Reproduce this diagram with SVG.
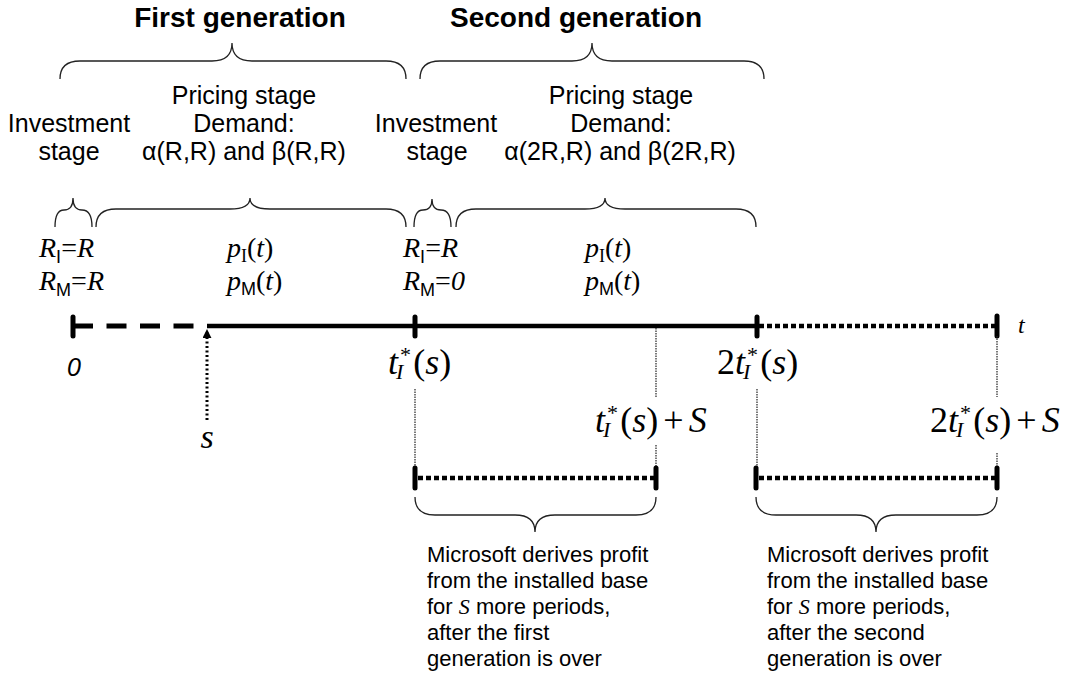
<svg xmlns="http://www.w3.org/2000/svg" width="1072" height="675" viewBox="0 0 1072 675">
<style>
.sans{font-family:"Liberation Sans",Arial,sans-serif;fill:#000}
.serif{font-family:"Liberation Serif","Times New Roman",serif;fill:#000}
.title{font-size:28px;font-weight:bold;text-anchor:middle}
.lbl{font-size:25px;text-anchor:middle}
.note{font-size:22px}
.brace{fill:none;stroke:#222;stroke-width:1.3}
.thick{stroke:#000;stroke-width:4.5;fill:none}
.tick{stroke:#000;stroke-width:5;stroke-linecap:round}
.dots{stroke:#000;stroke-width:4.5;stroke-dasharray:5 3;fill:none}
.thin{stroke:#222;stroke-width:1.2;stroke-dasharray:1.5 1;fill:none}
.it{font-style:italic}
.sm{font-size:22px}
</style>
<defs>
<marker id="arr" viewBox="0 0 10 10" refX="9" refY="5" markerWidth="9" markerHeight="9" markerUnits="userSpaceOnUse" orient="auto"><path d="M0,0 L10,5 L0,10 Z" fill="#000"/></marker>
</defs>

<g id="titles">
<text class="sans title" x="240" y="27">First generation</text>
<text class="sans title" x="576" y="27">Second generation</text>
</g>

<g id="braces">
<path class="brace" d="M60,79 Q60,61 80,61 L212,61 Q232,61 232,43 Q232,61 252,61 L386,61 Q406,61 406,79"/>
<path class="brace" d="M420,79 Q420,61 440,61 L572,61 Q592,61 592,43 Q592,61 612,61 L744,61 Q764,61 764,79"/>
<path class="brace" d="M55,227 Q55,210 64,210 Q73,210 73,198 Q73,210 82,210 Q92,210 92,227"/>
<path class="brace" d="M96,227 Q96,209 116,209 L230,209 Q250,209 250,198 Q250,209 270,209 L386,209 Q406,209 406,227"/>
<path class="brace" d="M414,227 Q414,210 423,210 Q432,210 432,199 Q432,210 441,210 Q451,210 451,227"/>
<path class="brace" d="M456,227 Q456,209 476,209 L585,209 Q605,209 605,198 Q605,209 625,209 L736,209 Q756,209 756,227"/>
<path class="brace" d="M415,497 Q415,515 435,515 L515,515 Q535,515 535,532 Q535,515 555,515 L636,515 Q656,515 656,497"/>
<path class="brace" d="M756,497 Q756,515 776,515 L856,515 Q876,515 876,532 Q876,515 896,515 L977,515 Q997,515 997,497"/>
</g>

<g id="stage-labels">
<text class="sans lbl" x="69" y="132">Investment</text>
<text class="sans lbl" x="69" y="160">stage</text>
<text class="sans lbl" x="244" y="104">Pricing stage</text>
<text class="sans lbl" x="244" y="132">Demand:</text>
<text class="sans lbl" x="244" y="160">α(R,R) and β(R,R)</text>
<text class="sans lbl" x="436" y="132">Investment</text>
<text class="sans lbl" x="437" y="160">stage</text>
<text class="sans lbl" x="621" y="104">Pricing stage</text>
<text class="sans lbl" x="621" y="132">Demand:</text>
<text class="sans lbl" x="620" y="160">α(2R,R) and β(2R,R)</text>
</g>

<g id="variables">
<text class="serif" font-size="28" x="39" y="257"><tspan class="it">R</tspan><tspan class="sans" font-size="18" dy="6">I</tspan><tspan dy="-6">=</tspan><tspan class="it">R</tspan></text>
<text class="serif" font-size="28" x="39" y="290"><tspan class="it">R</tspan><tspan class="sans" font-size="18" dy="6">M</tspan><tspan dy="-6">=</tspan><tspan class="it">R</tspan></text>
<text class="serif" font-size="28" x="227" y="257"><tspan class="it">p</tspan><tspan font-size="18" dy="5">I</tspan><tspan dy="-5">(</tspan><tspan class="it">t</tspan>)</text>
<text class="serif" font-size="28" x="227" y="290"><tspan class="it">p</tspan><tspan class="sans" font-size="18" dy="5">M</tspan><tspan dy="-5">(</tspan><tspan class="it">t</tspan>)</text>
<text class="serif" font-size="28" x="403" y="257"><tspan class="it">R</tspan><tspan class="sans" font-size="18" dy="6">I</tspan><tspan dy="-6">=</tspan><tspan class="it">R</tspan></text>
<text class="serif" font-size="28" x="403" y="290"><tspan class="it">R</tspan><tspan class="sans" font-size="18" dy="6">M</tspan><tspan dy="-6">=</tspan><tspan class="it">0</tspan></text>
<text class="serif" font-size="28" x="585" y="257"><tspan class="it">p</tspan><tspan font-size="18" dy="5">I</tspan><tspan dy="-5">(</tspan><tspan class="it">t</tspan>)</text>
<text class="serif" font-size="28" x="585" y="290"><tspan class="it">p</tspan><tspan class="sans" font-size="18" dy="5">M</tspan><tspan dy="-5">(</tspan><tspan class="it">t</tspan>)</text>
</g>

<g id="connectors">
<line class="tick" x1="73" y1="317" x2="73" y2="336"/>
<line x1="73" y1="326" x2="207" y2="326" stroke="#000" stroke-width="5" stroke-dasharray="20 13.5"/>
<line class="thick" x1="207" y1="326" x2="757" y2="326"/>
<line class="tick" x1="415" y1="317" x2="415" y2="336"/>
<line class="tick" x1="757" y1="317" x2="757" y2="336"/>
<line class="dots" x1="759" y1="326" x2="995" y2="326"/>
<line class="tick" x1="997" y1="316" x2="997" y2="336"/>
<line x1="207" y1="420" x2="207" y2="330" stroke="#000" stroke-width="3" stroke-dasharray="2 2.5" marker-end="url(#arr)"/>
<line class="thin" x1="415" y1="389" x2="415" y2="470"/>
<line class="thin" x1="656" y1="328" x2="656" y2="397"/>
<line class="thin" x1="656" y1="445" x2="656" y2="470"/>
<line class="thin" x1="757" y1="389" x2="757" y2="470"/>
<line class="thin" x1="997" y1="336" x2="997" y2="397"/>
<line class="thin" x1="997" y1="453" x2="997" y2="470"/>
<line class="tick" x1="415" y1="468" x2="415" y2="488"/>
<line class="dots" x1="418" y1="478" x2="654" y2="478"/>
<line class="tick" x1="656" y1="468" x2="656" y2="488"/>
<line class="tick" x1="756" y1="468" x2="756" y2="488"/>
<line class="dots" x1="759" y1="478" x2="995" y2="478"/>
<line class="tick" x1="997" y1="468" x2="997" y2="488"/>
</g>

<g id="axis-labels">
<text class="sans it" font-size="25" x="67" y="376">0</text>
<text class="serif it" font-size="34" x="207" y="448" text-anchor="middle">s</text>
<text class="serif it" font-size="24" x="1018" y="333">t</text>
<text class="serif" font-size="36" x="388" y="374"><tspan class="it">t</tspan><tspan class="sm" dx="2" dy="-12">*</tspan><tspan class="sm it" dx="-15" dy="17">I</tspan><tspan dx="10" dy="-5">(</tspan><tspan class="it">s</tspan>)</text>
<text class="serif" font-size="36" x="595" y="432"><tspan class="it">t</tspan><tspan class="sm" dx="2" dy="-12">*</tspan><tspan class="sm it" dx="-15" dy="17">I</tspan><tspan dx="10" dy="-5">(</tspan><tspan class="it">s</tspan>)<tspan dx="5">+</tspan><tspan class="it" dx="5">S</tspan></text>
<text class="serif" font-size="36" x="717" y="374">2<tspan class="it">t</tspan><tspan class="sm" dx="2" dy="-12">*</tspan><tspan class="sm it" dx="-15" dy="17">I</tspan><tspan dx="10" dy="-5">(</tspan><tspan class="it">s</tspan>)</text>
<text class="serif" font-size="36" x="930" y="432">2<tspan class="it">t</tspan><tspan class="sm" dx="2" dy="-12">*</tspan><tspan class="sm it" dx="-15" dy="17">I</tspan><tspan dx="10" dy="-5">(</tspan><tspan class="it">s</tspan>)<tspan dx="5">+</tspan><tspan class="it" dx="5">S</tspan></text>
</g>

<g id="note-1">
<text class="sans note" x="427" y="562">Microsoft derives profit</text>
<text class="sans note" x="427" y="588">from the installed base</text>
<text class="sans note" x="427" y="614">for <tspan class="serif it">S</tspan> more periods,</text>
<text class="sans note" x="427" y="640">after the first</text>
<text class="sans note" x="427" y="666">generation is over</text>
</g>
<g id="note-2">
<text class="sans note" x="767" y="562">Microsoft derives profit</text>
<text class="sans note" x="767" y="588">from the installed base</text>
<text class="sans note" x="767" y="614">for <tspan class="serif it">S</tspan> more periods,</text>
<text class="sans note" x="767" y="640">after the second</text>
<text class="sans note" x="767" y="666">generation is over</text>
</g>
</svg>
